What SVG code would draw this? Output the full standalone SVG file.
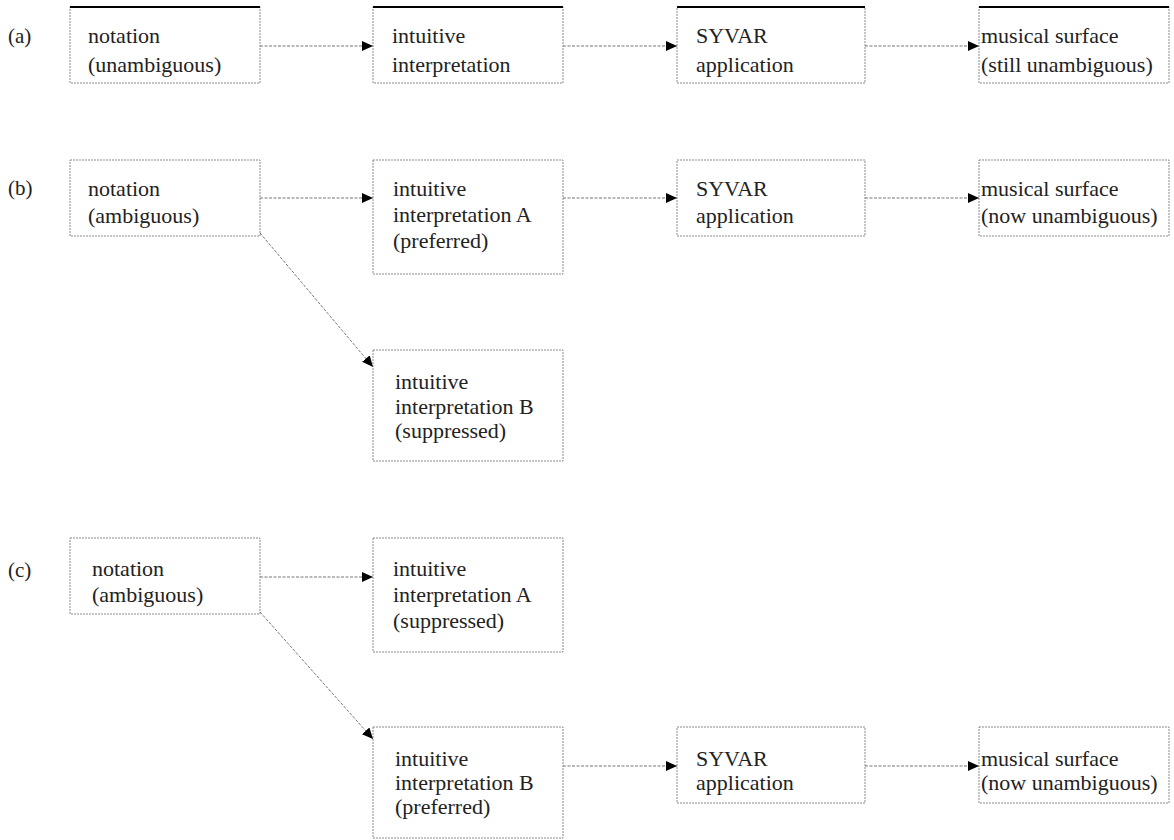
<svg xmlns="http://www.w3.org/2000/svg" width="1174" height="840" viewBox="0 0 1174 840">
<style>
.box{fill:#fff;stroke:#8a8a8a;stroke-width:1;stroke-dasharray:2 1}
.top{stroke:#000;stroke-width:2}
.t{font-family:"Liberation Serif","Times New Roman",serif;font-size:22px;fill:#222}
.lab{font-family:"Liberation Serif","Times New Roman",serif;font-size:21px;fill:#222}
.c{fill:none;stroke:#777;stroke-width:1;stroke-dasharray:3 1.5}
</style>
<defs>
<marker id="ah" markerUnits="userSpaceOnUse" markerWidth="12" markerHeight="10" refX="11" refY="5" orient="auto">
<path d="M0,0 L11,5 L0,10 Z" fill="#000"/>
</marker>
</defs>
<text class="lab" x="8" y="43">(a)</text>
<text class="lab" x="8" y="195">(b)</text>
<text class="lab" x="8" y="577">(c)</text>

<g id="a1"><rect class="box" x="70" y="7" width="190" height="76"/><line class="top" x1="70" y1="7" x2="260" y2="7"/><text class="t" x="88" y="43">notation</text><text class="t" x="88" y="72">(unambiguous)</text></g>
<g id="a2"><rect class="box" x="373" y="7" width="190" height="76"/><line class="top" x1="373" y1="7" x2="563" y2="7"/><text class="t" x="392" y="43">intuitive</text><text class="t" x="392" y="72">interpretation</text></g>
<g id="a3"><rect class="box" x="677" y="7" width="188" height="76"/><line class="top" x1="677" y1="7" x2="865" y2="7"/><text class="t" x="696" y="43">SYVAR</text><text class="t" x="696" y="72">application</text></g>
<g id="a4"><rect class="box" x="979" y="7" width="190" height="76"/><line class="top" x1="979" y1="7" x2="1169" y2="7"/><text class="t" x="981" y="43">musical surface</text><text class="t" x="981" y="72">(still unambiguous)</text></g>

<g id="b1"><rect class="box" x="70" y="160" width="190" height="76"/><text class="t" x="88" y="196">notation</text><text class="t" x="88" y="223">(ambiguous)</text></g>
<g id="b2"><rect class="box" x="373" y="160" width="190" height="114"/><text class="t" x="393" y="196">intuitive</text><text class="t" x="393" y="222">interpretation A</text><text class="t" x="393" y="248">(preferred)</text></g>
<g id="b3"><rect class="box" x="677" y="160" width="188" height="76"/><text class="t" x="696" y="196">SYVAR</text><text class="t" x="696" y="223">application</text></g>
<g id="b4"><rect class="box" x="979" y="160" width="190" height="76"/><text class="t" x="981" y="196">musical surface</text><text class="t" x="981" y="223">(now unambiguous)</text></g>
<g id="b5"><rect class="box" x="373" y="350" width="190" height="111"/><text class="t" x="395" y="389">intuitive</text><text class="t" x="395" y="414">interpretation B</text><text class="t" x="395" y="438">(suppressed)</text></g>

<g id="c1"><rect class="box" x="70" y="538" width="190" height="76"/><text class="t" x="92" y="576">notation</text><text class="t" x="92" y="602">(ambiguous)</text></g>
<g id="c2"><rect class="box" x="373" y="538" width="190" height="114"/><text class="t" x="393" y="576">intuitive</text><text class="t" x="393" y="602">interpretation A</text><text class="t" x="393" y="628">(suppressed)</text></g>
<g id="c3"><rect class="box" x="373" y="727" width="190" height="111"/><text class="t" x="395" y="766">intuitive</text><text class="t" x="395" y="790">interpretation B</text><text class="t" x="395" y="814">(preferred)</text></g>
<g id="c4"><rect class="box" x="677" y="727" width="188" height="76"/><text class="t" x="696" y="766">SYVAR</text><text class="t" x="696" y="790">application</text></g>
<g id="c5"><rect class="box" x="979" y="727" width="190" height="76"/><text class="t" x="981" y="766">musical surface</text><text class="t" x="981" y="790">(now unambiguous)</text></g>

<g id="connectors">
<line class="c" x1="260" y1="46" x2="373" y2="46" marker-end="url(#ah)"/>
<line class="c" x1="563" y1="46" x2="677" y2="46" marker-end="url(#ah)"/>
<line class="c" x1="865" y1="46" x2="979" y2="46" marker-end="url(#ah)"/>
<line class="c" x1="260" y1="198" x2="373" y2="198" marker-end="url(#ah)"/>
<line class="c" x1="563" y1="198" x2="677" y2="198" marker-end="url(#ah)"/>
<line class="c" x1="865" y1="198" x2="979" y2="198" marker-end="url(#ah)"/>
<line class="c" x1="260" y1="233" x2="373" y2="367" marker-end="url(#ah)"/>
<line class="c" x1="260" y1="577" x2="373" y2="577" marker-end="url(#ah)"/>
<line class="c" x1="260" y1="612" x2="373" y2="739" marker-end="url(#ah)"/>
<line class="c" x1="563" y1="766" x2="677" y2="766" marker-end="url(#ah)"/>
<line class="c" x1="865" y1="766" x2="979" y2="766" marker-end="url(#ah)"/>
</g>
</svg>
